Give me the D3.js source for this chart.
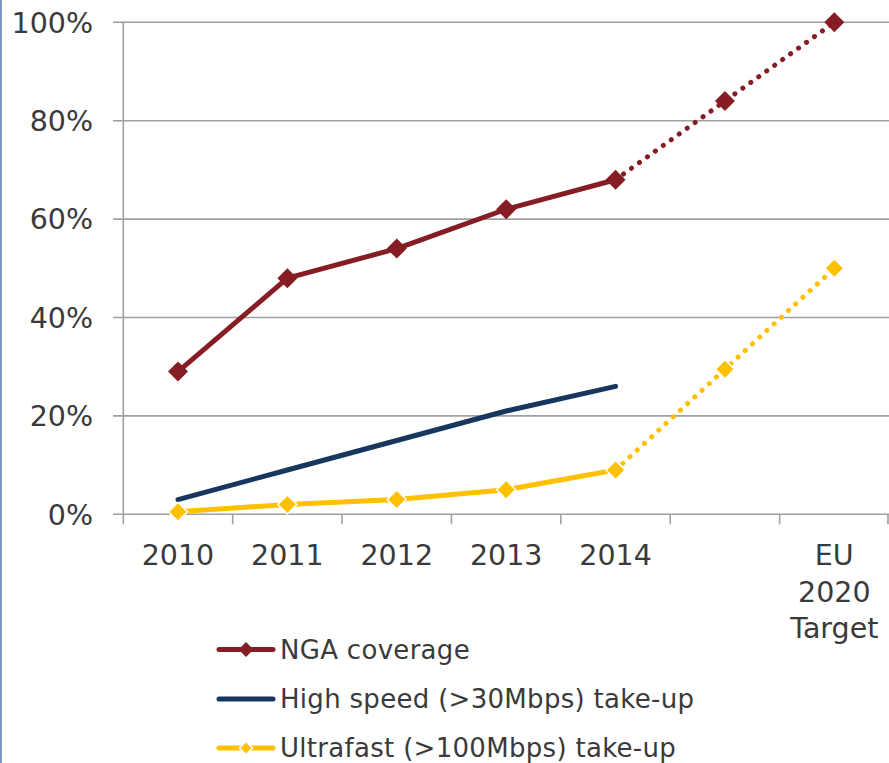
<!DOCTYPE html>
<html><head><meta charset="utf-8">
<script src="https://cdn.jsdelivr.net/npm/d3@7"></script>
<style>
html,body{margin:0;padding:0;background:#fff;}
svg{display:block;}
text{font-family:"DejaVu Sans",Verdana,sans-serif;fill:#3a3a3a;}
</style></head>
<body>
<svg id="chart" width="889" height="763"></svg>
<script>
const categories = ["2010","2011","2012","2013","2014","","EU\n2020\nTarget"];
const ngaCoverage = [29, 48, 54, 62, 68, 84, 100];
const highSpeedTakeUp = [3, 9, 15, 21, 26];
const ultrafastTakeUp = [0.5, 2, 3, 5, 9, 29.5, 50];
const yTicks = [0, 20, 40, 60, 80, 100];
const seriesNames = ["NGA coverage", "High speed (>30Mbps) take-up", "Ultrafast (>100Mbps) take-up"];
const colors = ["#861c24", "#17375e", "#ffc000"];
const actualCount = 5; // first 5 points are actual (solid), rest projected (dotted)

const svg = d3.select("#chart");
const W = 889, H = 763;

// left border line
svg.append("line").attr("x1",1).attr("x2",1).attr("y1",0).attr("y2",H)
  .attr("stroke","#7e98c8").attr("stroke-width",2);

const x = d3.scaleBand().domain(d3.range(categories.length)).range([123.3, 889]).padding(0);
const y = d3.scaleLinear().domain([0,100]).range([514.3, 22.3]);
const cx = i => x(i) + x.bandwidth()/2;

// gridlines
svg.append("g").selectAll("line").data(yTicks).join("line")
  .attr("x1",113).attr("x2",W).attr("y1",d=>y(d)).attr("y2",d=>y(d))
  .attr("stroke","#a0a0a0").attr("stroke-width",1.6);

// y axis line
svg.append("line").attr("x1",123.3).attr("x2",123.3).attr("y1",y(100)).attr("y2",y(0))
  .attr("stroke","#a0a0a0").attr("stroke-width",1.6);

// y labels
svg.append("g").selectAll("text").data(yTicks).join("text")
  .attr("x",93).attr("y",d=>y(d)).attr("dy","0.36em").attr("text-anchor","end")
  .attr("font-size",28.5).text(d=>d+"%");

// x ticks at band boundaries
const bounds = d3.range(categories.length+1).map(i => i < categories.length ? x(i) : x.range()[1]-1);
svg.append("g").selectAll("line").data(bounds).join("line")
  .attr("x1",d=>d).attr("x2",d=>d).attr("y1",y(0)).attr("y2",y(0)+10)
  .attr("stroke","#a0a0a0").attr("stroke-width",1.6);

// x labels
const xl = svg.append("g");
categories.forEach((c,i) => {
  const lines = c.split("\n");
  const t = xl.append("text").attr("text-anchor","middle").attr("font-size",28.5)
    .attr("x",cx(i)).attr("y",565);
  lines.forEach((ln,j) => t.append("tspan").attr("x",cx(i)).attr("dy", j===0?0:36.5).text(ln));
});

const line = d3.line().x(d=>cx(d.i)).y(d=>y(d.v));
const pts = arr => arr.map((v,i)=>({i,v}));

function drawSeries(vals, color, markers, markerSize, markerStroke) {
  const p = pts(vals);
  const solid = p.slice(0, actualCount);
  svg.append("path").datum(solid).attr("d",line).attr("fill","none")
    .attr("stroke",color).attr("stroke-width",5).attr("stroke-linejoin","round")
    .attr("stroke-linecap", markers ? "butt" : "round");
  if (p.length > actualCount) {
    const dotted = p.slice(actualCount-1);
    svg.append("path").datum(dotted).attr("d",line).attr("fill","none")
      .attr("stroke",color).attr("stroke-width",5).attr("stroke-linecap","round")
      .attr("stroke-dasharray","0.1 9.7");
  }
  if (markers) {
    svg.append("g").selectAll("path").data(p).join("path")
      .attr("transform",d=>`translate(${cx(d.i)},${y(d.v)})`)
      .attr("d",`M0,-${markerSize}L${markerSize},0L0,${markerSize}L-${markerSize},0Z`)
      .attr("fill",color).attr("stroke",markerStroke||"none").attr("stroke-width",1.5);
  }
}

drawSeries(highSpeedTakeUp, colors[1], false);
drawSeries(ultrafastTakeUp, colors[2], true, 9.5, "#ffffff");
drawSeries(ngaCoverage, colors[0], true, 10, null);

// legend
const legendY = [649.5, 699, 748];
const lg = svg.append("g");
seriesNames.forEach((name,i) => {
  const g = lg.append("g").attr("transform",`translate(0,${legendY[i]})`);
  g.append("line").attr("x1",219).attr("x2",273).attr("y1",0).attr("y2",0)
    .attr("stroke",colors[i]).attr("stroke-width",5).attr("stroke-linecap","round");
  if (i !== 1) {
    const s = i===0 ? 7.5 : 6.5;
    g.append("path").attr("transform","translate(246,0)")
      .attr("d",`M0,-${s}L${s},0L0,${s}L-${s},0Z`)
      .attr("fill",colors[i]).attr("stroke", i===2 ? "#fff" : "none").attr("stroke-width",1.5);
  }
  g.append("text").attr("x",280).attr("y",0).attr("dy","0.36em").attr("font-size",26)
    .attr("letter-spacing",0.3).text(name);
});
</script>
</body></html>
